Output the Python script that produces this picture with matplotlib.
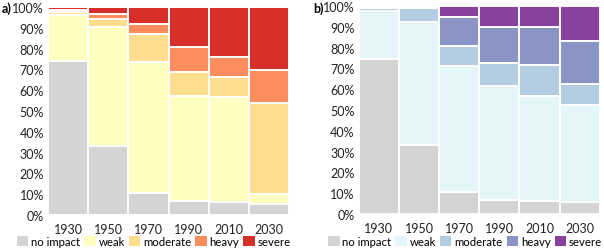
import matplotlib.pyplot as plt
from matplotlib.patches import Patch

years = ['1930', '1950', '1970', '1990', '2010', '2030']
classes = ['no impact', 'weak', 'moderate', 'heavy', 'severe']

# panel a) shares in %
a_none = [74.2, 33.3, 10.6, 6.7, 6.4, 5.1]
a_weak = [21.8, 56.9, 63.1, 50.7, 50.5, 5.0]
a_moderate = [1.8, 4.0, 13.3, 11.5, 9.3, 43.6]
a_heavy = [0.7, 2.4, 4.8, 11.7, 9.9, 16.0]
a_severe = [1.5, 3.4, 8.2, 19.4, 23.9, 30.3]

# panel b) shares in %
b_none = [74.4, 33.3, 10.7, 6.7, 6.2, 5.7]
b_weak = [23.2, 59.0, 60.6, 54.8, 50.8, 46.5]
b_moderate = [1.5, 6.7, 9.6, 11.0, 14.8, 10.1]
b_heavy = [0.0, 1.0, 13.8, 17.4, 18.1, 21.1]
b_severe = [0.0, 0.0, 5.3, 10.1, 10.1, 16.6]

colors_a = ['#d4d4d4', '#ffffc0', '#fedd8e', '#fd8d5c', '#d7302a']
colors_b = ['#d4d4d4', '#e4f6fa', '#b4cde3', '#8b95c5', '#88419d']

plt.rcParams['font.family'] = ['Lato', 'DejaVu Sans']

fig = plt.figure(figsize=(6.04, 2.51), dpi=100)
ax_a = fig.add_axes([0.0795, 0.139, 0.399, 0.829])
ax_b = fig.add_axes([0.594, 0.143, 0.399, 0.829])


def draw_panel(ax, series, colors, label, label_x, legend_x):
    x = list(range(len(years)))
    bottom = [0.0] * len(years)
    for vals, c in zip(series, colors):
        ax.bar(x, vals, width=1.0, bottom=bottom, color=c,
               edgecolor='white', linewidth=1.4)
        bottom = [b + v for b, v in zip(bottom, vals)]
    ax.set_xlim(-0.5, 5.5)
    ax.set_ylim(0, 100)
    ax.set_yticks(range(0, 101, 10))
    ax.set_yticklabels([f'{v}%' for v in range(0, 101, 10)])
    ax.set_xticks(x)
    ax.set_xticklabels(years)
    ax.tick_params(length=0, labelsize=9, colors='#222222', pad=3)
    ax.tick_params(axis='x', pad=6)
    for s in ax.spines.values():
        s.set_visible(False)
    fig.text(label_x, 0.965, label, fontsize=9, fontweight='bold',
             va='center', ha='left')
    handles = [Patch(facecolor=c, edgecolor='none') for c in colors]
    fig.legend(handles, classes, loc='center', ncol=5, frameon=False,
               bbox_to_anchor=(legend_x, 0.035), fontsize=8.2,
               handlelength=1.0, handleheight=0.9, handletextpad=0.25,
               columnspacing=0.35, borderaxespad=0, borderpad=0)


draw_panel(ax_a, [a_none, a_weak, a_moderate, a_heavy, a_severe], colors_a,
           'a)', 0.003, 0.255)
draw_panel(ax_b, [b_none, b_weak, b_moderate, b_heavy, b_severe], colors_b,
           'b)', 0.518, 0.77)

fig.savefig('out.png', dpi=100)
